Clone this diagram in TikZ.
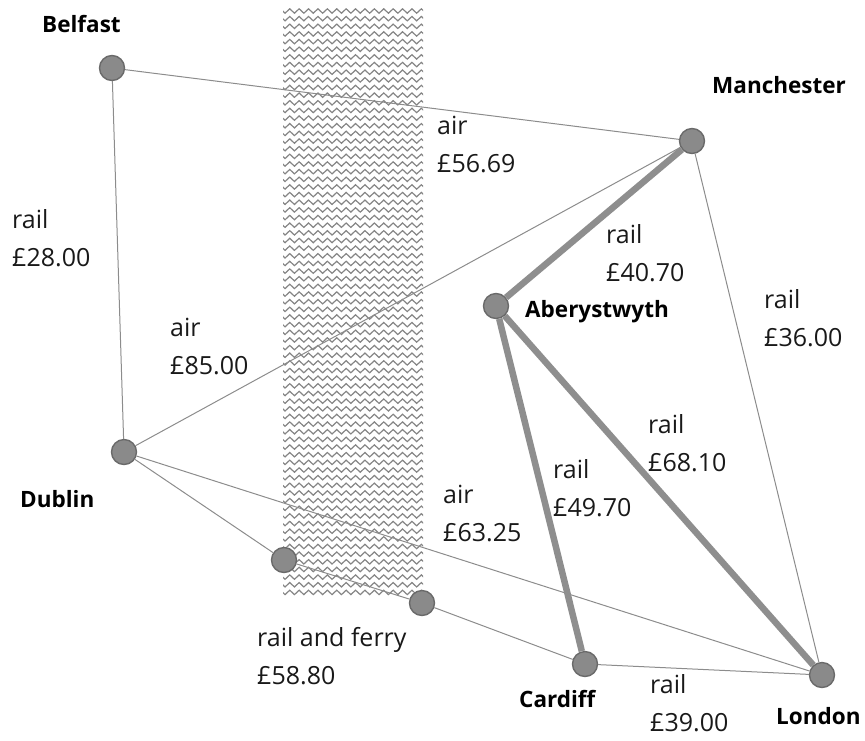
\documentclass[tikz,border=0pt]{standalone}
\usepackage{fontspec}
\setmainfont{Open Sans}
\usetikzlibrary{decorations.pathmorphing}
\definecolor{stationfill}{HTML}{8A8A8A}
\definecolor{stationrim}{HTML}{6A6A6A}
\definecolor{thinroute}{HTML}{8C8C8C}
\definecolor{mainroute}{HTML}{8E8E8E}
\definecolor{seawave}{HTML}{858585}
\tikzset{
  station/.style={circle, fill=stationfill, draw=stationrim, line width=1.4pt, minimum size=25pt, inner sep=0pt},
  route/.style={draw=thinroute, line width=1pt},
  mainline/.style={draw=mainroute, line width=6.5pt},
  city/.style={anchor=base west, inner sep=0pt, font=\fontsize{22.5}{26}\selectfont\bfseries},
  fare/.style={anchor=base west, inner sep=0pt, align=left, font=\fontsize{25}{37.5}\selectfont, text=black!90},
}
\begin{document}
\begin{tikzpicture}[x=1pt, y=-1pt]
\useasboundingbox (0,0) rectangle (865,740);
% Irish Sea band
\begin{scope}
  \clip (283,8) rectangle (423,596);
  \foreach \r in {0,...,77} {
    \draw[seawave, line width=1.2pt, decorate, decoration={zigzag, segment length=9.4pt, amplitude=2.2pt}]
      (278,{11+7.65*\r}) -- (430,{11+7.65*\r});
  }
\end{scope}
% stations
\node[station] (bel) at (112,68) {};
\node[station] (man) at (692,141) {};
\node[station] (abe) at (496,306) {};
\node[station] (dub) at (124,452) {};
\node[station] (hol) at (284,560) {};
\node[station] (fis) at (422,603) {};
\node[station] (car) at (585,664) {};
\node[station] (lon) at (822,675) {};
% routes
\draw[route] (bel) -- (man);
\draw[route] (bel) -- (dub);
\draw[route] (dub) -- (man);
\draw[route] (dub) -- (lon);
\draw[route] (dub) -- (hol);
\draw[route] (hol) -- (fis);
\draw[route] (fis) -- (car);
\draw[route] (car) -- (lon);
\draw[route] (man) -- (lon);
\draw[mainline] (man) -- (abe);
\draw[mainline] (abe) -- (car);
\draw[mainline] (abe) -- (lon);
% city names
\node[city] (tbel) at (42,32) {Belfast};
\node[city] (tman) at (712,93) {Manchester};
\node[city] (tabe) at (525,317) {Aberystwyth};
\node[city] (tdub) at (20,507) {Dublin};
\node[city] (tcar) at (519,707) {Cardiff};
\node[city] (tlon) at (776,724) {London};
% fares (node base is the second line)
\node[fare] (f1) at (12,266) {rail\\£28.00};
\node[fare] (f2) at (437,172) {air\\£56.69};
\node[fare] (f3) at (606,281) {rail\\£40.70};
\node[fare] (f4) at (764,346) {rail\\£36.00};
\node[fare] (f5) at (170,374) {air\\£85.00};
\node[fare] (f6) at (648,471) {rail\\£68.10};
\node[fare] (f7) at (553,516) {rail\\£49.70};
\node[fare] (f8) at (443,541) {air\\£63.25};
\node[fare] (f9) at (257,684) {rail and ferry\\£58.80};
\node[fare] (f10) at (650,731) {rail\\£39.00};
\end{tikzpicture}
\end{document}
